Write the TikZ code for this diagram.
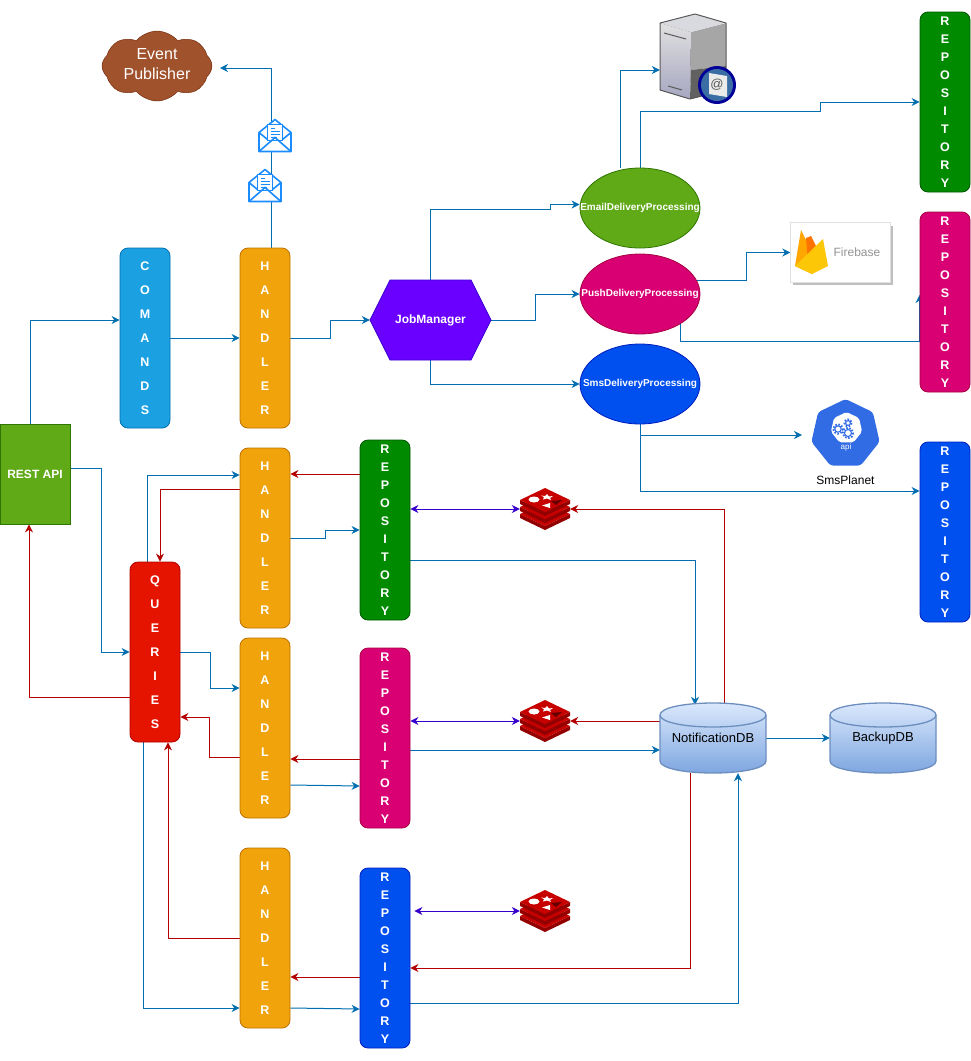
\documentclass[tikz,border=0pt]{standalone}
\usepackage{fontspec}
\setmainfont{Liberation Sans}
\usetikzlibrary{arrows.meta,backgrounds,shapes.geometric,shapes.symbols}

\definecolor{flowblue}{HTML}{006EAF}
\definecolor{flowred}{HTML}{B20000}
\definecolor{flowviolet}{HTML}{3700CC}
\definecolor{mailblue}{HTML}{1A8CFF}
\definecolor{apiblue}{HTML}{326CE5}
\definecolor{storetop}{HTML}{DAE8FC}
\definecolor{storelow}{HTML}{7EA6E0}
\definecolor{storeline}{HTML}{6C8EBF}
\definecolor{leafgreen}{HTML}{60A917}
\definecolor{leafline}{HTML}{2D7600}

\tikzset{
  >={Stealth[length=8pt,width=8pt]},
  flow/.style={->,line width=1pt,draw=flowblue},
  back/.style={->,line width=1pt,draw=flowred},
  sync/.style={<->,line width=1pt,draw=flowviolet},
  tallbox/.style={rectangle,rounded corners=8pt,minimum width=50pt,minimum height=180pt,
    inner sep=0pt,align=center,text=white,line width=0.8pt},
  wordbox/.style={tallbox,font=\bfseries\fontsize{12.5}{24}\selectfont},
  repobox/.style={tallbox,font=\bfseries\fontsize{12.5}{18}\selectfont},
  worker/.style={ellipse,minimum width=120pt,minimum height=80pt,inner sep=0pt,text=white,
    line width=0.8pt,font=\bfseries\fontsize{10}{12}\selectfont},
  store/.style={rectangle,minimum width=106pt,minimum height=70pt,inner sep=0pt,font=\fontsize{13}{15}\selectfont},
  iconbox/.style={rectangle,inner sep=0pt,minimum width=50pt,minimum height=42pt},
  storeshape/.pic={
    \draw[draw=storeline,line width=1.3pt,top color=storetop,bottom color=storelow]
      (-53,-23) -- (-53,23) .. controls (-53,30) and (-30,35) .. (0,35) .. controls (30,35) and (53,30) .. (53,23)
      -- (53,-23) .. controls (53,-30) and (30,-35) .. (0,-35) .. controls (-30,-35) and (-53,-30) .. (-53,-23) -- cycle;
    \draw[storeline,line width=1.3pt] (-53,-23) .. controls (-53,-16) and (-30,-11) .. (0,-11) .. controls (30,-11) and (53,-16) .. (53,-23);
  },
  mailicon/.pic={
    \filldraw[draw=mailblue,fill=white,line width=1.6pt,line join=round]
      (-16,-3) -- (0,-16) -- (16,-3) -- (16,16) -- (-16,16) -- cycle;
    \filldraw[draw=mailblue,fill=white,line width=1.6pt] (-7.5,-11) rectangle (7.5,5);
    \draw[mailblue,line width=1.6pt] (-16,16) -- (0,2) -- (16,16) (-16,-3) -- (-7.5,4) (16,-3) -- (7.5,4);
    \foreach \y/\w in {-7/4,-4/9,-1/9,2/6}{ \draw[mailblue,line width=1.2pt] (-4.5,\y) -- ++(\w,0); }
  },
  redisicon/.pic={
    \foreach \y in {14,7,0}{
      \fill[red!50!black!85!red] (-25,\y-9) -- (0,\y+3) -- (25,\y-9) -- (25,\y-5) -- (0,\y+7) -- (-25,\y-5) -- cycle;
      \fill[red!78!black] (0,\y-21) -- (25,\y-9) -- (0,\y+3) -- (-25,\y-9) -- cycle;
    }
    \fill[white] (-11,-9.5) ellipse (5.5 and 3);
    \fill[white] (-3,-3.5) -- (5,-6) -- (5,-1) -- cycle;
    \fill[white] (2,-15) -- (4,-12.5) -- (8,-13) -- (5,-11) -- (6,-9) -- (2,-10.5) -- (-2,-9.5) -- (-1,-12) -- (-4,-13.5) -- (0,-13) -- cycle;
    \fill[red!40!black] (6,-8) -- (17,-9) -- (11,-4) -- cycle;
  },
  gearicon/.pic={
    \draw[apiblue,line width=1.1pt] circle (3.2);
    \draw[apiblue,line width=1.8pt,dash pattern=on 1.6pt off 1.6pt] circle (4.8);
  }
}

\begin{document}
\begin{tikzpicture}[x=1pt,y=-1pt]
  \useasboundingbox (0,0) rectangle (971,1061);

  % left side and handlers
  \node[rectangle,draw=leafline,fill=leafgreen,line width=0.8pt,minimum width=70pt,
        minimum height=100pt,inner sep=0pt,text=white,font=\bfseries\fontsize{12}{14}\selectfont] (rest) at (35,474) {REST API};
  \node[wordbox,draw=flowblue,fill={rgb,255:red,27;green,161;blue,226}] (cmd) at (145,338) {C\\O\\M\\A\\N\\D\\S};
  \node[wordbox,draw=flowred,fill={rgb,255:red,229;green,20;blue,0}] (qry) at (155,652) {Q\\U\\E\\R\\I\\E\\S};
  \foreach \n/\y in {ha/338,hb/538,hc/728,hd/938}{
    \node[wordbox,draw={rgb,255:red,189;green,112;blue,0},fill={rgb,255:red,240;green,163;blue,10}] (\n) at (265,\y) {H\\A\\N\\D\\L\\E\\R};
  }

  % repositories
  \foreach \n/\x/\y/\r/\g/\b/\rr/\gg/\bb in {rpa/385/530/0/138/0/0/87/0,rpb/385/738/216/0/115/165/0/64,rpc/385/958/0/80/239/0/29/188,
                                    rra/945/102/0/138/0/0/87/0,rrb/945/302/216/0/115/165/0/64,rrc/945/532/0/80/239/0/29/188}{
    \node[repobox,draw={rgb,255:red,\rr;green,\gg;blue,\bb},fill={rgb,255:red,\r;green,\g;blue,\b}] (\n) at (\x,\y) {R\\E\\P\\O\\S\\I\\T\\O\\R\\Y};
  }

  % job manager and delivery workers
  \draw[draw={rgb,255:red,55;green,0;blue,204},fill={rgb,255:red,106;green,0;blue,255},line width=0.8pt]
    (370,320) -- (390,280) -- (471,280) -- (491,320) -- (471,360) -- (390,360) -- cycle;
  \node[rectangle,minimum width=121pt,minimum height=80pt,inner sep=0pt,text=white,font=\bfseries\fontsize{12}{14}\selectfont] (job) at (430.5,320) {JobManager};
  \node[worker,draw=leafline,fill=leafgreen] (email) at (640,208) {\makebox[0pt]{EmailDeliveryProcessing}};
  \node[worker,draw={rgb,255:red,165;green,0;blue,64},fill={rgb,255:red,216;green,0;blue,115}] (push) at (640,294) {\makebox[0pt]{PushDeliveryProcessing}};
  \node[worker,draw={rgb,255:red,0;green,29;blue,188},fill={rgb,255:red,0;green,80;blue,239}] (sms) at (640,384) {\makebox[0pt]{SmsDeliveryProcessing}};

  % databases
  \pic at (713,738) {storeshape};
  \pic at (883,738) {storeshape};
  \node[store] (ndb) at (713,738) {NotificationDB};
  \node[store] (bak) at (883,738) {BackupDB};

  % event publisher
  \node[cloud,cloud puffs=8,cloud puff arc=100,aspect=1.6,draw={rgb,255:red,109;green,31;blue,0},fill={rgb,255:red,160;green,82;blue,45},
        minimum width=110pt,minimum height=70pt,inner sep=0pt] (pub) at (157,66) {};
  \node[align=center,text=white,inner sep=0pt,font=\fontsize{16}{20}\selectfont] (publabel) at (157,64) {Event\\Publisher};
  \coordinate (pubin) at (220,68);
  \pic at (265,185.5) {mailicon};
  \pic at (275,135.5) {mailicon};

  % mail server
  \node[rectangle,minimum width=66pt,minimum height=85pt,inner sep=0pt] (srv) at (693,57) {};
  \fill[top color=black!12,bottom color=blue!30!black!35] (660,23) -- (691,32) -- (690,99) -- (660,90) -- cycle;
  \fill[black!35] (691,32) -- (726,23) -- (726,66) -- (691,70) -- cycle;
  \fill[black!62] (691,70) -- (726,66) -- (726,90) -- (690,99) -- cycle;
  \fill[blue!20!black!15] (660,23) -- (695,14) -- (726,23) -- (691,32) -- cycle;
  \draw[black!65,line width=1pt,line join=round] (660,23) -- (695,14) -- (726,23) -- (726,90) -- (690,99) -- (660,90) -- cycle;
  \draw[black!65,line width=1pt] (664,33) -- (686,39) (668,86) -- (682,90);
  \fill[blue!60!black] (717,85) circle (19);
  \fill[cyan!55!blue!75!black] (717,85) circle (16);
  \fill[black!8] (709,73) -- (727,76) -- (727,97) -- (709,94) -- cycle;
  \node[inner sep=0pt,text=black!65,font=\fontsize{13}{13}\selectfont] (srvat) at (717,85) {@};

  % firebase
  \fill[black!25] (793,226) rectangle (893,285);
  \node[rectangle,draw=black!12,fill=white,minimum width=100pt,minimum height=60pt,inner sep=0pt] (fire) at (840.5,252.5) {};
  \fill[orange!70!yellow] (795,266) -- (801,230) -- (812,252) -- (812,274) -- cycle;
  \fill[orange!90!red] (806,238) -- (811,236) -- (820,254) -- (808,262) -- cycle;
  \fill[yellow!60!orange] (795,266) -- (823,239) -- (828,266) -- (812,274) -- cycle;
  \node[inner sep=0pt,text=black!42,font=\fontsize{12}{14}\selectfont] (firename) at (857,252) {Firebase};

  % api
  \node[regular polygon,regular polygon sides=7,fill=apiblue,rounded corners=3pt,minimum size=70pt,inner sep=0pt] (api) at (845.5,434) {};
  \node[regular polygon,regular polygon sides=7,fill=white,rounded corners=2pt,minimum size=32pt,inner sep=0pt] (apicore) at (846.5,428) {};
  \pic at (838,429) {gearicon};
  \pic at (848,423) [scale=0.75] {gearicon};
  \pic at (848,433) [scale=1.1] {gearicon};
  \node[inner sep=0pt,text=white,font=\fontsize{8}{10}\selectfont] (apitag) at (846,447) {api};
  \node[inner sep=0pt,font=\fontsize{12}{14}\selectfont] (apiname) at (845.5,480) {SmsPlanet};
  \coordinate (apiin) at (802,435);

  % redis
  \foreach \n/\y in {rda/509,rdb/721,rdc/911}{
    \node[iconbox] (\n) at (545,\y) {};
    \pic at (\n) {redisicon};
  }

  \begin{scope}[on background layer]
    % upper part
    \draw[flow] ([xshift=-5]rest.north) |- ([yshift=18]cmd.west);
    \draw[flow] (cmd.east) -- (ha.west);
    \draw[flow] ([xshift=6]ha.north) |- (pubin);
    \draw[flow] (ha.east) -- ++(40,0) |- (job.west);
    \draw[flow] (job.north) -- ++(0,-70) -- ++(119.5,0) |- ([yshift=3.5]email.west);
    \draw[flow] (job.east) -- ++(44,0) |- (push.west);
    \draw[flow] (job.south) |- (sms.west);
    \draw[flow] ([xshift=-20]email.north) |- ([yshift=-13]srv.west);
    \draw[flow] (email.north) -- ++(0,-56) -- ++(180,0) |- (rra.west);
    \draw[flow] ([shift={(50,-14)}]push.center) -- ++(56,0) |- (fire.west);
    \draw[flow] ([shift={(40,20)}]push.center) |- ([yshift=-39]rrb.west) -- ([yshift=7]rrb.west);
    \draw[flow] (sms.south) |- (apiin);
    \draw[flow] (sms.south) |- ([yshift=41]rrc.west);
    % queries and handlers
    \draw[flow] ([yshift=6]rest.east) -- ++(31,0) |- (qry.west);
    \draw[flow] ([xshift=-8]qry.north) |- ([yshift=63]hb.west);
    \draw[back] ([yshift=49]hb.west) -| ([xshift=5]qry.north);
    \draw[back] ([yshift=-45]qry.west) -| ([xshift=-6]rest.south);
    \draw[flow] (qry.east) -- ++(30,0) |- ([yshift=40]hc.west);
    \draw[back] ([yshift=-29]hc.west) -- ++(-30,0) |- ([yshift=-65]qry.east);
    \draw[back] (hd.west) -| ([xshift=13]qry.south);
    \draw[flow] ([xshift=-12]qry.south) |- ([yshift=-70]hd.west);
    % handlers and repositories
    \draw[flow] (hb.east) -- ++(35,0) |- (rpa.west);
    \draw[back] ([yshift=56]rpa.west) -- ([yshift=64]hb.east);
    \draw[back] ([yshift=-21]rpb.west) -- ([yshift=-31]hc.east);
    \draw[flow] ([yshift=-57]hc.east) -- ([yshift=-48]rpb.west);
    \draw[back] ([yshift=-19]rpc.west) -- ([yshift=-39]hd.east);
    \draw[flow] ([yshift=-70]hd.east) -- ([yshift=-51]rpc.west);
    % repositories, cache and database
    \draw[sync] ([yshift=21]rpa.east) -- (rda.west);
    \draw[sync] ([yshift=17]rpb.east) -- (rdb.west);
    \draw[sync] ([shift={(4,-47)}]rpc.east) -- (rdc.west);
    \draw[flow] ([yshift=-30]rpa.east) -| ([shift={(-18,2)}]ndb.north);
    \draw[flow] ([yshift=-12]rpb.east) -- ([yshift=-12]ndb.west);
    \draw[back] ([xshift=11]ndb.north) |- (rda.east);
    \draw[back] ([yshift=17]ndb.west) -- (rdb.east);
    \draw[back] ([xshift=-23]ndb.south) |- ([yshift=-10]rpc.east);
    \draw[flow] ([yshift=-45]rpc.east) -| ([xshift=25]ndb.south);
    \draw[flow] (ndb.east) -- (bak.west);
  \end{scope}
\end{tikzpicture}
\end{document}
